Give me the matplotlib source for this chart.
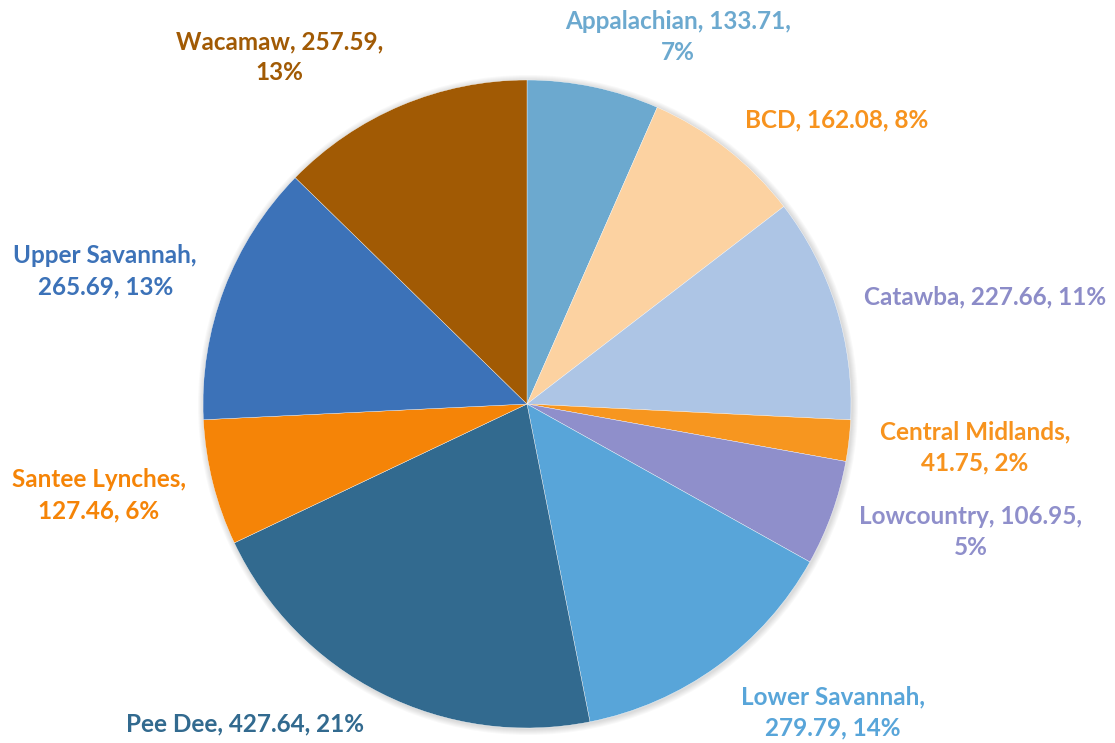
import matplotlib
matplotlib.use("Agg")
import matplotlib.pyplot as plt
from matplotlib.patches import Circle

regions = ["Appalachian", "BCD", "Catawba", "Central Midlands", "Lowcountry",
           "Lower Savannah", "Pee Dee", "Santee Lynches", "Upper Savannah", "Wacamaw"]
values = [133.71, 162.08, 227.66, 41.75, 106.95, 279.79, 427.64, 127.46, 265.69, 257.59]
percents = [7, 8, 11, 2, 5, 14, 21, 6, 13, 13]

slice_colors = ["#6CA9CF", "#FCD2A1", "#ADC5E5", "#F7961F", "#8F8FCB",
                "#58A5D9", "#326A8F", "#F58407", "#3C72B8", "#A15A04"]
label_colors = ["#6CA9CF", "#F7931E", "#8C8CC8", "#F7931E", "#8F8FCB",
                "#58A5D9", "#326A8F", "#F58407", "#3C72B8", "#A15A04"]

# label text, with line breaks like the original
label_text = [
    "Appalachian, 133.71,\n7%",
    "BCD, 162.08, 8%",
    "Catawba, 227.66, 11%",
    "Central Midlands,\n41.75, 2%",
    "Lowcountry, 106.95,\n5%",
    "Lower Savannah,\n279.79, 14%",
    "Pee Dee, 427.64, 21%",
    "Santee Lynches,\n127.46, 6%",
    "Upper Savannah,\n265.69, 13%",
    "Wacamaw, 257.59,\n13%",
]
# label centres, in units of the pie radius from the centre
label_pos = [(0.465, 1.133), (0.957, 0.877), (1.414, 0.330), (1.383, -0.133),
             (1.370, -0.395), (0.944, -0.951), (-0.870, -0.988), (-1.321, -0.281),
             (-1.302, 0.410), (-0.765, 1.071)]

W, H = 1115, 743
cx, cy, R = 527, H - 404, 324

fig = plt.figure(figsize=(W / 100, H / 100), dpi=100)
ax = fig.add_axes([0, 0, 1, 1])

# soft shadow round the pie
for i in range(6):
    ax.add_patch(Circle((cx + 1, cy - 1), R + 1 + i, color="black", alpha=0.025, lw=0, zorder=0))

ax.pie(values, colors=slice_colors, startangle=90, counterclock=False,
       center=(cx, cy), radius=R, frame=True,
       wedgeprops=dict(edgecolor="white", linewidth=0.25))
ax.set_xlim(0, W)
ax.set_ylim(0, H)
ax.axis("off")

for txt, (px, py), col in zip(label_text, label_pos, label_colors):
    ax.text(cx + px * R, cy + py * R, txt, color=col, fontsize=17.5, fontweight="bold",
            family="Lato", ha="center", va="center", linespacing=1.42)

fig.savefig("out.png", dpi=100)
